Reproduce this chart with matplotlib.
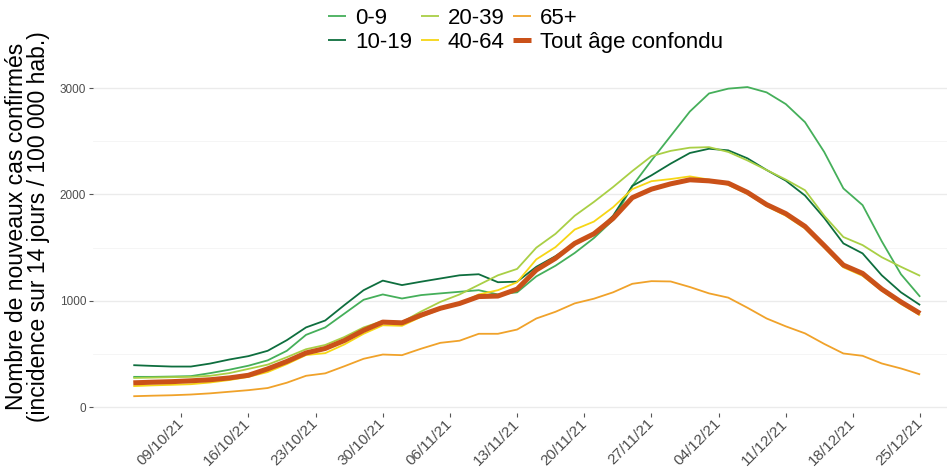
import matplotlib as mpl
mpl.use('Agg')
import matplotlib.pyplot as plt
import matplotlib.dates as mdates
import pandas as pd

plt.rcParams['font.family'] = ['Liberation Sans', 'DejaVu Sans']

# one value every 2 days, 04/10/21 -> 25/12/21
dates = pd.date_range('2021-10-04', '2021-12-25', freq='2D')

age_0_9 = [285, 285, 288, 292, 320, 352, 390, 440, 530, 680, 750, 880, 1010, 1060,
           1022, 1054, 1070, 1085, 1100, 1060, 1080, 1230, 1330, 1450, 1590, 1760,
           2080, 2320, 2550, 2780, 2950, 2995, 3010, 2960, 2850, 2680, 2400, 2057,
           1900, 1560, 1250, 1038]
age_10_19 = [395, 388, 382, 382, 410, 448, 480, 530, 630, 750, 815, 960, 1100, 1190,
             1148, 1180, 1210, 1240, 1250, 1175, 1180, 1320, 1420, 1540, 1625, 1800,
             2080, 2180, 2290, 2390, 2430, 2415, 2340, 2230, 2130, 1990, 1780, 1540,
             1446, 1240, 1080, 960]
age_20_39 = [275, 278, 282, 285, 295, 320, 360, 400, 470, 545, 585, 660, 750, 810,
             800, 900, 990, 1060, 1150, 1240, 1300, 1500, 1630, 1800, 1930, 2070,
             2220, 2360, 2410, 2440, 2445, 2400, 2320, 2230, 2140, 2040, 1800, 1600,
             1524, 1410, 1320, 1235]
age_40_64 = [198, 205, 210, 216, 232, 255, 285, 330, 405, 490, 508, 590, 690, 770,
             765, 850, 920, 975, 1060, 1100, 1175, 1390, 1505, 1670, 1745, 1880,
             2050, 2125, 2145, 2170, 2140, 2090, 2005, 1890, 1800, 1680, 1500, 1315,
             1235, 1095, 970, 865]
age_65 = [103, 108, 112, 119, 130, 145, 160, 180, 230, 295, 318, 385, 455, 495,
          489, 550, 605, 625, 690, 690, 730, 834, 897, 976, 1020, 1080, 1160, 1185,
          1182, 1130, 1070, 1030, 935, 834, 760, 694, 595, 505, 483, 411, 364, 308]
tout_age = [229, 235, 240, 248, 258, 275, 300, 360, 430, 510, 552, 627, 722, 800,
            793, 866, 930, 975, 1040, 1045, 1110, 1290, 1400, 1540, 1630, 1775,
            1970, 2050, 2100, 2138, 2128, 2106, 2020, 1905, 1820, 1700, 1520, 1336,
            1258, 1110, 990, 881]

labels = ['0-9', '10-19', '20-39', '40-64', '65+', 'Tout âge confondu']
colors = ['#45AF5A', '#0E6E3E', '#A9CF45', '#F6D615', '#F0A22A', '#CA5119']
widths = [1.3, 1.3, 1.3, 1.3, 1.3, 3.6]
series = [age_0_9, age_10_19, age_20_39, age_40_64, age_65, tout_age]

fig = plt.figure(figsize=(9.47, 4.70), dpi=100)
ax = fig.add_axes([0.0982, 0.121, 0.916, 0.7277])

for vals, lab, col, lw in zip(series, labels, colors, widths):
    ax.plot(dates, vals, color=col, linewidth=lw, label=lab, solid_capstyle='butt')

pad = pd.Timedelta(days=4.2)
ax.set_xlim(dates[0] - pad, dates[-1] + pad)
ax.set_ylim(-56, 3160)

ax.set_yticks([0, 1000, 2000, 3000])
ax.set_yticks([500, 1500, 2500], minor=True)
ax.grid(axis='y', which='major', color='#EBEBEB', linewidth=1.0)
ax.grid(axis='y', which='minor', color='#F4F4F4', linewidth=0.6)
ax.set_axisbelow(True)

xticks = pd.date_range('2021-10-09', '2021-12-25', freq='7D')
ax.set_xticks(xticks)
ax.xaxis.set_major_formatter(mdates.DateFormatter('%d/%m/%y'))
ax.tick_params(axis='x', which='major', length=3, color='#555555', labelsize=11,
               labelcolor='#4D4D4D', pad=3)
ax.tick_params(axis='y', which='major', length=3, color='#555555', labelsize=8.5,
               labelcolor='#4D4D4D', pad=2)
ax.tick_params(axis='y', which='minor', length=0)
for lbl in ax.get_xticklabels():
    lbl.set_rotation(45)
    lbl.set_ha('right')
    lbl.set_va('center')
    lbl.set_rotation_mode('anchor')

for s in ax.spines.values():
    s.set_visible(False)

ax.set_ylabel('Nombre de nouveaux cas confirmés\n(incidence sur 14 jours / 100 000 hab.)',
              fontsize=16.5, linespacing=0.92)
ax.yaxis.set_label_coords(-0.05, 0.545)

fig.legend(loc='upper center', bbox_to_anchor=(0.555, 1.025), ncol=3, frameon=False,
           fontsize=16, handlelength=0.8, handletextpad=0.4, columnspacing=0.4,
           labelspacing=0.12)

fig.savefig('out.png', dpi=100)
